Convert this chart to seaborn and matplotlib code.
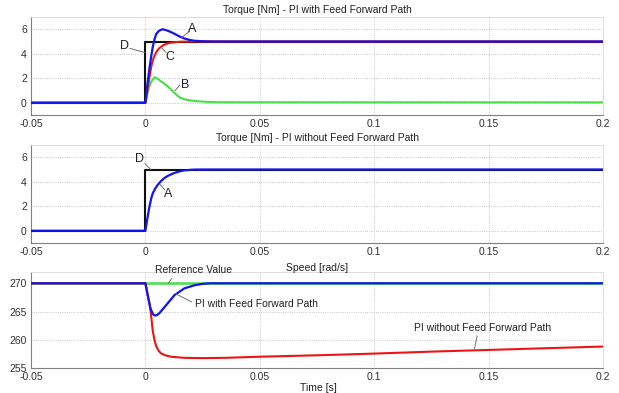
import numpy as np
import pandas as pd
import matplotlib
matplotlib.use("Agg")
import matplotlib.pyplot as plt
import seaborn as sns

# ---------------- data ----------------
# reference step D (both torque panels)
ref_t = [-0.05, 0.0, 0.0, 0.2]
ref_torque = [0.0, 0.0, 5.0, 5.0]

# Panel 1: PI with feed forward path
ffA_t = [-0.05, 0.0, 0.0005, 0.001, 0.0017, 0.0025, 0.0032, 0.004, 0.0047, 0.0058,
         0.0068, 0.0076, 0.009, 0.0108, 0.0127, 0.015, 0.017, 0.0195, 0.0214, 0.025, 0.03, 0.2]
ff_A = [0.0, 0.0, 0.9, 1.7, 2.7, 3.75, 4.55, 5.2, 5.6, 5.85,
        5.95, 6.0, 5.93, 5.8, 5.63, 5.4, 5.25, 5.12, 5.06, 5.02, 5.0, 5.0]
ffC_t = [-0.05, 0.0, 0.0005, 0.001, 0.0017, 0.0025, 0.0032, 0.004, 0.005, 0.006,
         0.0078, 0.0098, 0.0125, 0.0155, 0.02, 0.025, 0.2]
ff_C = [0.0, 0.0, 0.5, 1.1, 2.0, 2.9, 3.45, 3.85, 4.2, 4.45,
        4.7, 4.85, 4.94, 4.98, 5.0, 5.0, 5.0]
ffB_t = [-0.05, 0.0, 0.0008, 0.0017, 0.0028, 0.004, 0.0052, 0.0068, 0.0083, 0.0098,
         0.0113, 0.0127, 0.0142, 0.0155, 0.0175, 0.0199, 0.023, 0.026, 0.032, 0.2]
ff_B = [0.0, 0.0, 0.7, 1.32, 1.8, 2.08, 1.98, 1.75, 1.55, 1.33,
        1.06, 0.8, 0.55, 0.38, 0.26, 0.18, 0.12, 0.08, 0.04, 0.03]

# Panel 2: PI without feed forward path
nff_t = [-0.05, 0.0, 0.0005, 0.001, 0.00175, 0.0025, 0.0032, 0.0043, 0.0054, 0.0068,
         0.0083, 0.010, 0.0127, 0.015, 0.017, 0.021, 0.025, 0.2]
nff_A = [0.0, 0.0, 0.6, 1.15, 1.95, 2.6, 3.05, 3.45, 3.75, 4.05,
         4.3, 4.5, 4.72, 4.85, 4.93, 4.99, 5.0, 5.0]

# Panel 3: speed
spd_ref_t = [-0.05, 0.2]
spd_ref = [270.0, 270.0]
spd_t_ff = [-0.05, 0.0, 0.001, 0.0022, 0.0032, 0.004, 0.005, 0.0061, 0.009, 0.0127,
            0.017, 0.0214, 0.025, 0.0286, 0.2]
spd_ff = [270.0, 270.0, 267.9, 265.6, 264.6, 264.3, 264.35, 264.7, 266.1, 267.9,
          269.1, 269.65, 269.9, 270.0, 270.0]
spd_t_nff = [-0.05, 0.0, 0.001, 0.002, 0.0025, 0.0032, 0.004, 0.0047, 0.0057, 0.0068,
             0.009, 0.0112, 0.014, 0.017, 0.025, 0.035, 0.05, 0.075, 0.1, 0.125,
             0.15, 0.175, 0.2]
spd_nff = [270.0, 270.0, 267.9, 265.9, 264.3, 261.6, 259.9, 258.9, 258.1, 257.6,
           257.2, 257.0, 256.9, 256.8, 256.75, 256.8, 257.0, 257.25, 257.55, 257.9,
           258.2, 258.5, 258.8]

x_ticks = [-0.05, 0, 0.05, 0.1, 0.15, 0.2]
x_ticklabels = ["-0.05", "0", "0.05", "0.1", "0.15", "0.2"]
torque_ticks = [0, 2, 4, 6]
speed_ticks = [255, 260, 265, 270]

titles = ["Torque [Nm] - PI with Feed Forward Path",
          "Torque [Nm] - PI without Feed Forward Path",
          "Speed [rad/s]"]

# ---------------- style ----------------
sns.set_style("white")
plt.rcParams["font.family"] = ["Liberation Sans", "DejaVu Sans"]
plt.rcParams["font.size"] = 7

BLUE = "#1414ee"
RED = "#ee1414"
GREEN = "#44e044"
BLACK = "#101010"

fig = plt.figure(figsize=(6.19, 3.93), dpi=100)
W, H = 619, 393
left, right = 31, 603
boxes = [(17, 115), (145, 243), (272, 368)]
axes = []
for top, bot in boxes:
    ax = fig.add_axes([left / W, 1 - bot / H, (right - left) / W, (bot - top) / H])
    axes.append(ax)


def line(ax, t, y, color, lw=1.5, z=2):
    df = pd.DataFrame({"t": t, "v": y})
    sns.lineplot(data=df, x="t", y="v", ax=ax, color=color, lw=lw,
                 estimator=None, sort=False, zorder=z)


# panel 1
ax = axes[0]
line(ax, ffB_t, ff_B, GREEN, z=2)
line(ax, ref_t, ref_torque, BLACK, z=3)
line(ax, ffC_t, ff_C, RED, z=4)
line(ax, ffA_t, ff_A, BLUE, lw=1.6, z=5)

# panel 2
ax = axes[1]
line(ax, ref_t, ref_torque, BLACK, z=3)
line(ax, nff_t, nff_A, BLUE, lw=1.6, z=5)

# panel 3
ax = axes[2]
line(ax, spd_t_nff, spd_nff, RED, z=3)
line(ax, spd_ref_t, spd_ref, GREEN, lw=1.8, z=2)
line(ax, spd_t_ff, spd_ff, BLUE, lw=1.6, z=4)

for i, ax in enumerate(axes):
    ax.set_xlim(-0.05, 0.2)
    ax.set_xticks(x_ticks)
    ax.set_xticklabels(x_ticklabels)
    if i < 2:
        ax.set_ylim(-1, 7)
        ax.set_yticks(torque_ticks)
    else:
        ax.set_ylim(255, 272)
        ax.set_yticks(speed_ticks)
    ax.set_xlabel("")
    ax.set_ylabel("")
    ax.grid(True, ls=":", color="#b8b8b8", lw=0.6)
    ax.tick_params(direction="in", length=3, width=0.6, color="#707070",
                   labelsize=7.5, labelcolor="#303030", pad=3)
    for s in ["left", "bottom"]:
        ax.spines[s].set_color("#808080")
        ax.spines[s].set_linewidth(0.8)
    for s in ["top", "right"]:
        ax.spines[s].set_color("#d8d8d8")
        ax.spines[s].set_linewidth(0.6)
    ax.set_title(titles[i], fontsize=7.5, color="#202020", pad=3 if i < 2 else 0.5)

axes[2].set_xlabel("Time [s]", fontsize=7.5, color="#202020")
axes[2].xaxis.set_label_coords(0.502, -0.16)

LEAD = dict(arrowstyle="-", color="#707070", lw=0.7, shrinkA=0, shrinkB=0)


def label(ax, text, txy, start, end, size=9, ha="center"):
    ax.text(txy[0], txy[1], text, ha=ha, va="center", fontsize=size,
            color="#202020", zorder=10, clip_on=False)
    ax.annotate("", xy=end, xytext=start, arrowprops=LEAD,
                annotation_clip=False, zorder=9)


a = axes[0]
label(a, "A", (0.0206, 6.0), (0.0192, 5.84), (0.0158, 5.3))
label(a, "D", (-0.0090, 4.65), (-0.0068, 4.44), (-0.0003, 4.1))
label(a, "C", (0.0107, 3.75), (0.0090, 4.11), (0.0071, 4.48))
label(a, "B", (0.0173, 1.46), (0.0151, 1.46), (0.0129, 0.97))

a = axes[1]
label(a, "D", (-0.0027, 5.84), (-0.0002, 5.49), (0.0023, 5.0))
label(a, "A", (0.0100, 2.98), (0.0085, 3.33), (0.0063, 3.8))

a = axes[2]
label(a, "Reference Value", (0.0209, 272.3), (0.0115, 270.83), (0.0100, 270.0), size=7.5)
label(a, "PI with Feed Forward Path", (0.0217, 266.4), (0.0202, 266.7), (0.0129, 268.2),
      size=7.5, ha="left")
label(a, "PI without Feed Forward Path", (0.1472, 262.1), (0.1450, 260.7), (0.1437, 258.2),
      size=7.5)

fig.savefig("out.png", dpi=100)
